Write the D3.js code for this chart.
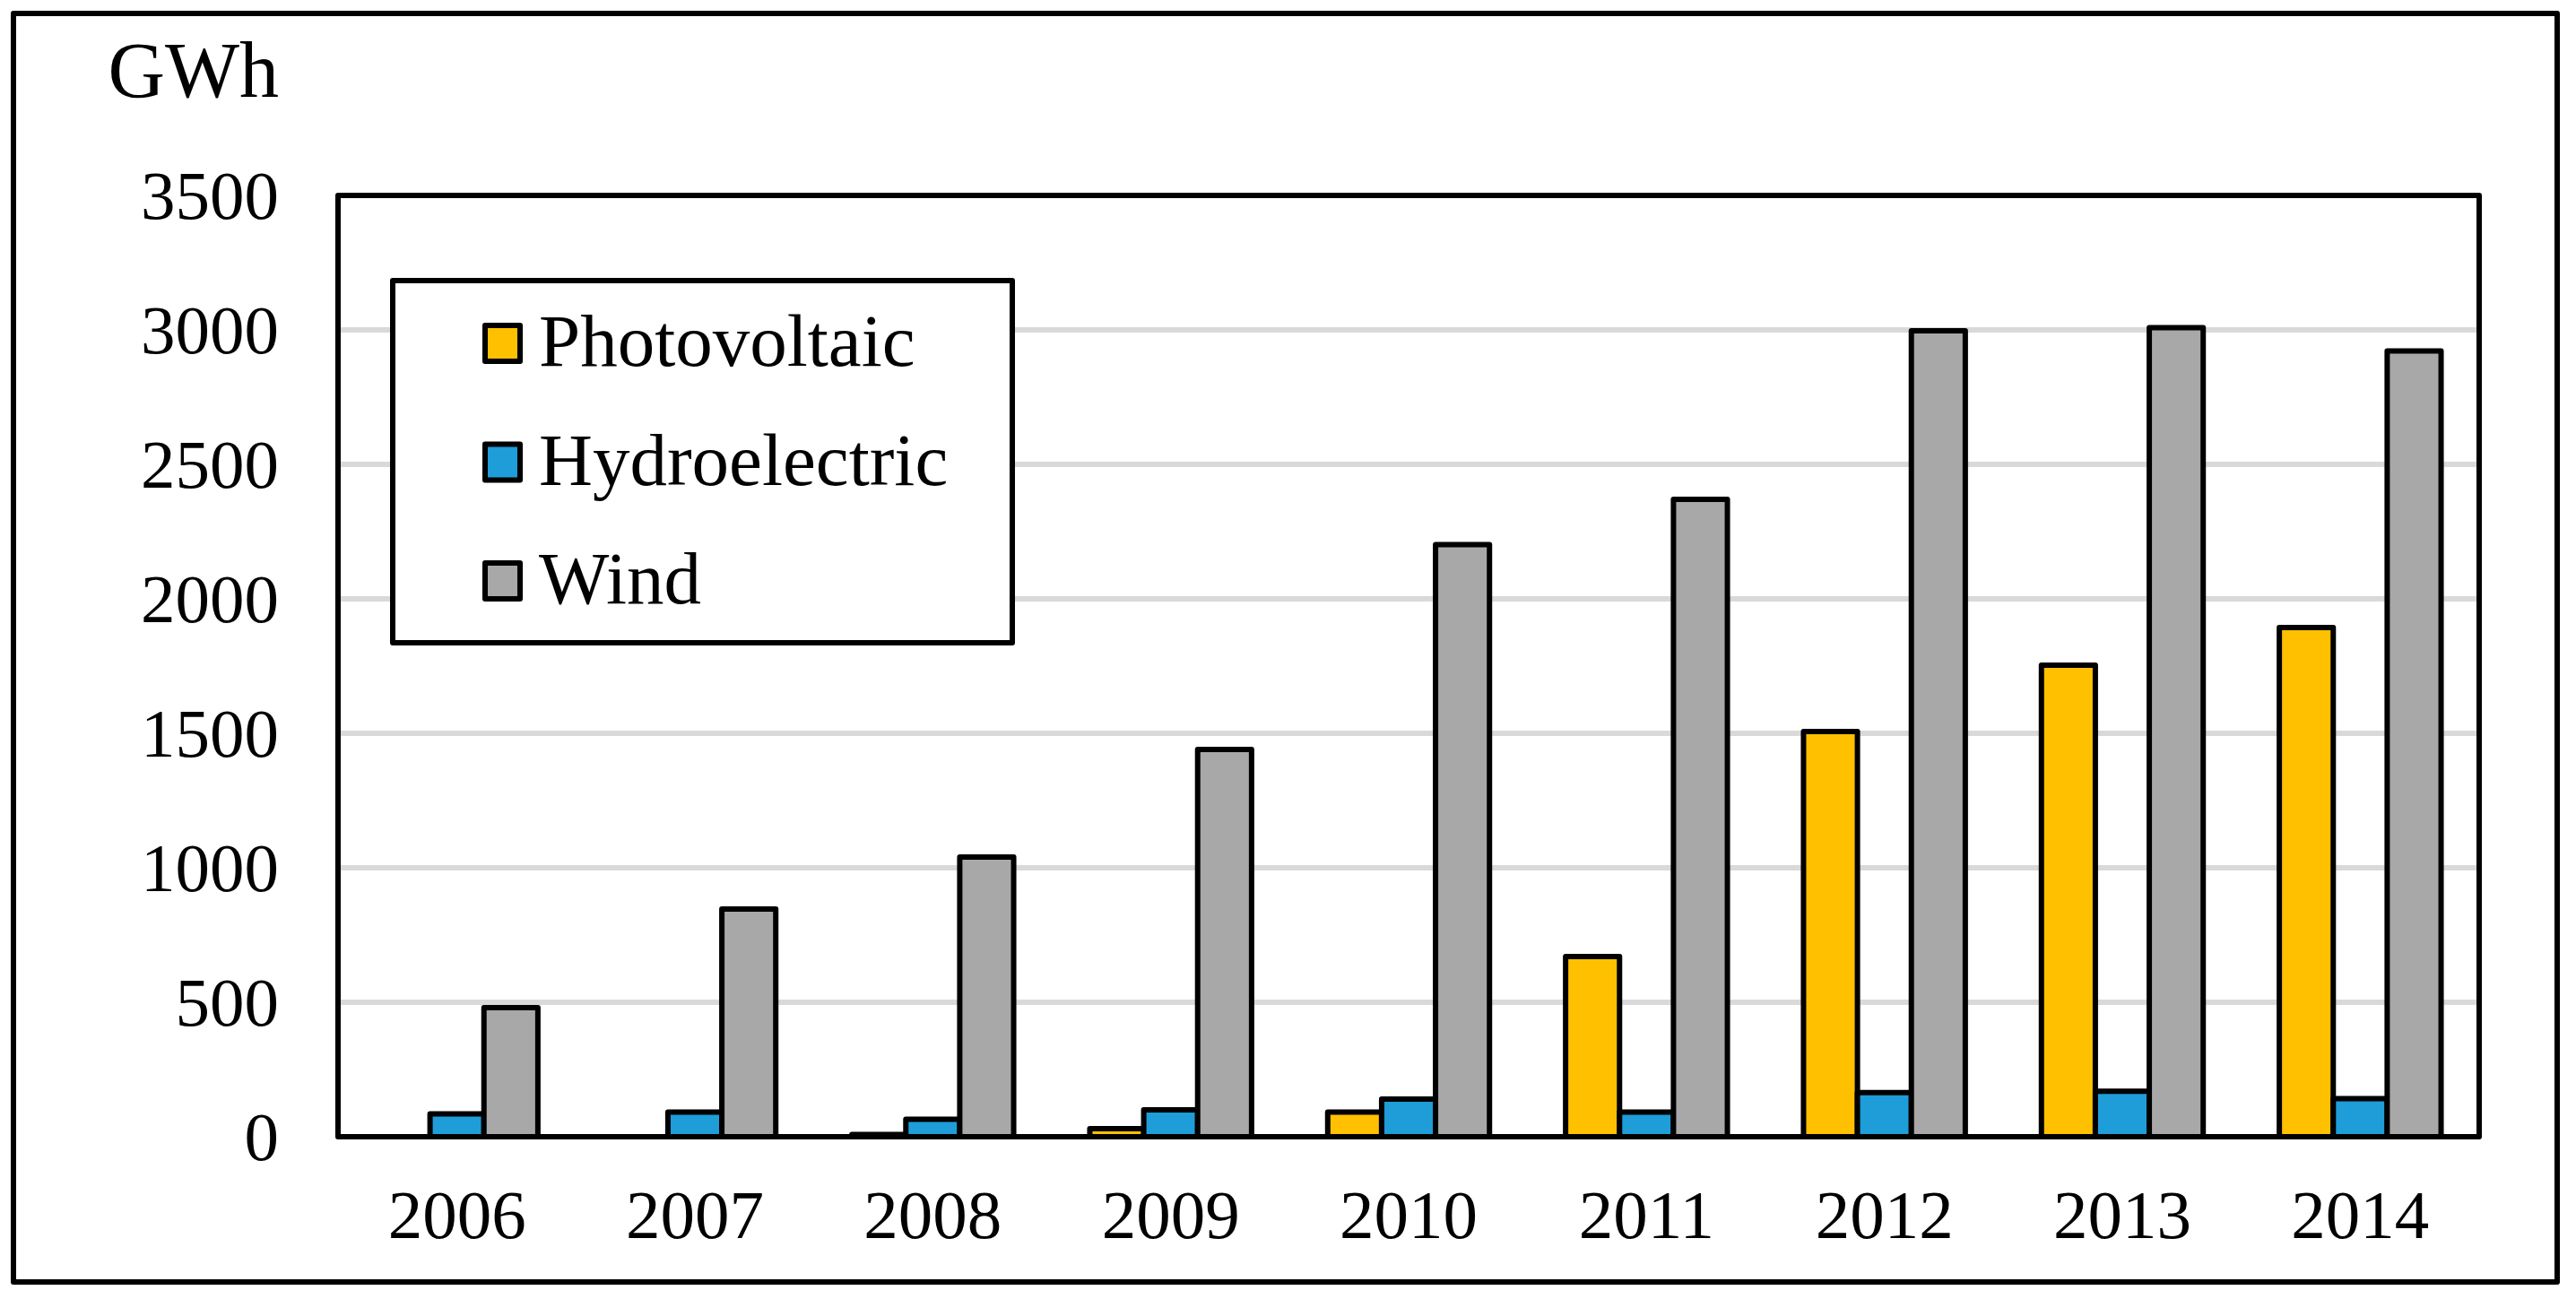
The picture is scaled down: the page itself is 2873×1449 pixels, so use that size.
<!DOCTYPE html>
<html>
<head>
<meta charset="utf-8">
<script src="https://cdn.jsdelivr.net/npm/d3@7/dist/d3.min.js"></script>
<style>
  html, body { margin: 0; padding: 0; background: #fff; }
  text { font-family: "Liberation Serif", "Times New Roman", serif; fill: #000; }
</style>
</head>
<body>
<div id="chart"></div>
<script>
var years = ['2006', '2007', '2008', '2009', '2010', '2011', '2012', '2013', '2014'];
var seriesNames = ['Photovoltaic', 'Hydroelectric', 'Wind'];
var photovoltaic = [0, 0, 8, 30, 92, 670, 1507, 1753, 1893];
var hydroelectric = [85, 92, 65, 100, 140, 92, 164, 169, 142];
var wind = [480, 847, 1040, 1440, 2202, 2370, 2997, 3008, 2922];
var yTicks = [0, 500, 1000, 1500, 2000, 2500, 3000, 3500];
var colors = ['#FFC000', '#1E9DD8', '#A8A8A8'];

var W = 2873, H = 1449;
var plot = { left: 377, top: 218, right: 2765, bottom: 1268 };

var svg = d3.select('#chart').append('svg')
  .attr('width', W).attr('height', H);

svg.append('rect').attr('width', W).attr('height', H).attr('fill', '#fff');

// outer frame
svg.append('rect')
  .attr('x', 15).attr('y', 15)
  .attr('width', 2852 - 15).attr('height', 1430 - 15)
  .attr('fill', 'none').attr('stroke', '#000').attr('stroke-width', 6)
  .attr('stroke-linejoin', 'round');

var y = d3.scaleLinear().domain([0, 3500]).range([plot.bottom, plot.top]);
var x0 = d3.scaleBand().domain(years).range([plot.left, plot.right])
  .paddingInner(0.32).paddingOuter(0.16);
var x1 = d3.scaleBand().domain(seriesNames).range([0, x0.bandwidth()]);

// gridlines
svg.append('g').selectAll('line')
  .data(yTicks.filter(function (d) { return d > 0 && d < 3500; }))
  .enter().append('line')
  .attr('x1', plot.left).attr('x2', plot.right)
  .attr('y1', function (d) { return y(d); })
  .attr('y2', function (d) { return y(d); })
  .attr('stroke', '#D9D9D9').attr('stroke-width', 6);

// bars
var table = years.map(function (yr, i) {
  return { year: yr, values: [photovoltaic[i], hydroelectric[i], wind[i]] };
});

var groups = svg.append('g').selectAll('g')
  .data(table).enter().append('g')
  .attr('transform', function (d) { return 'translate(' + x0(d.year) + ',0)'; });

groups.selectAll('rect')
  .data(function (d) { return d.values.map(function (v, k) { return { name: seriesNames[k], value: v, k: k }; }); })
  .enter().append('rect')
  .attr('x', function (d) { return x1(d.name); })
  .attr('y', function (d) { return y(d.value); })
  .attr('width', x1.bandwidth())
  .attr('height', function (d) { return y(0) - y(d.value); })
  .attr('fill', function (d) { return colors[d.k]; })
  .attr('stroke', '#000').attr('stroke-width', 6)
  .attr('stroke-linejoin', 'round');

// plot border
svg.append('rect')
  .attr('x', plot.left).attr('y', plot.top)
  .attr('width', plot.right - plot.left).attr('height', plot.bottom - plot.top)
  .attr('fill', 'none').attr('stroke', '#000').attr('stroke-width', 6)
  .attr('stroke-linejoin', 'round');

// y axis labels
var yAxis = d3.axisLeft(y).tickValues(yTicks).tickFormat(d3.format('d'))
  .tickSize(0).tickPadding(0);
var gy = svg.append('g').attr('transform', 'translate(311,0)').call(yAxis);
gy.select('.domain').remove();
gy.selectAll('text')
  .attr('x', 0).attr('dy', '0.33em')
  .style('font-family', '"Liberation Serif", "Times New Roman", serif')
  .style('font-size', '77px').attr('fill', '#000');

// x axis labels
var xAxis = d3.axisBottom(x0).tickSize(0).tickPadding(0);
var gx = svg.append('g').attr('transform', 'translate(0,1381)').call(xAxis);
gx.select('.domain').remove();
gx.selectAll('text')
  .attr('y', 0).attr('dy', 0)
  .style('font-family', '"Liberation Serif", "Times New Roman", serif')
  .style('font-size', '77px').attr('fill', '#000');

// unit label
svg.append('text')
  .attr('x', 311).attr('y', 108)
  .attr('text-anchor', 'end')
  .style('font-size', '88px')
  .text('GWh');

// legend
var legend = svg.append('g');
legend.append('rect')
  .attr('x', 438).attr('y', 313)
  .attr('width', 1129 - 438).attr('height', 717 - 313)
  .attr('fill', '#fff').attr('stroke', '#000').attr('stroke-width', 6)
  .attr('stroke-linejoin', 'round');

var items = legend.selectAll('g.item')
  .data(seriesNames).enter().append('g')
  .attr('class', 'item')
  .attr('transform', function (d, i) { return 'translate(0,' + (383 + i * 132.5) + ')'; });

items.append('rect')
  .attr('x', 541).attr('y', -20)
  .attr('width', 39).attr('height', 40)
  .attr('fill', function (d, i) { return colors[i]; })
  .attr('stroke', '#000').attr('stroke-width', 6)
  .attr('stroke-linejoin', 'round');

items.append('text')
  .attr('x', 601).attr('y', 25)
  .style('font-size', '83px')
  .text(function (d) { return d; });
</script>
</body>
</html>
